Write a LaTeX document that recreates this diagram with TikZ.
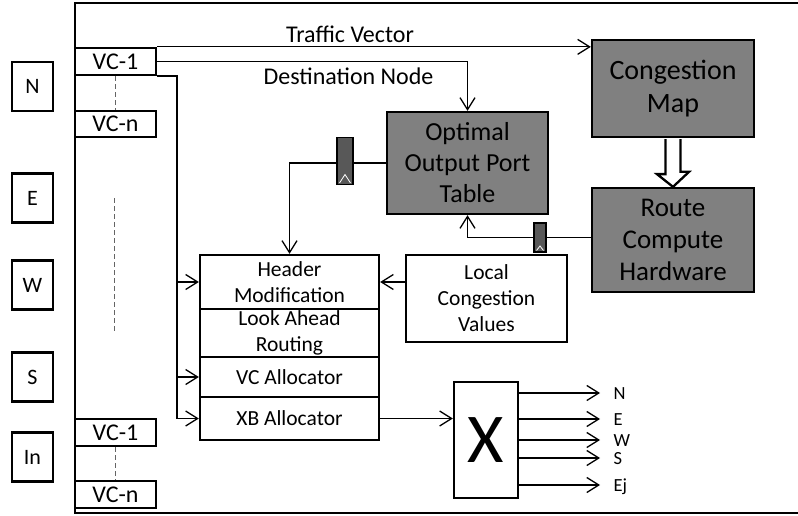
\documentclass[tikz,border=0pt]{standalone}
\usepackage{fontspec}
\setmainfont{Carlito}
\usetikzlibrary{arrows.meta}

\definecolor{boxgrey}{RGB}{128,128,128}
\definecolor{reggrey}{RGB}{88,88,88}
\definecolor{dashgrey}{RGB}{100,100,100}

\begin{document}
\begin{tikzpicture}[x=1pt,y=-1pt,line width=1.3pt,>={Straight Barb[length=12pt,width=15pt]},
    port/.style={draw,line width=2.3pt,minimum width=41pt,minimum height=49pt,inner sep=0pt,font=\fontsize{22}{24}\selectfont},
    vc/.style={draw,line width=2.3pt,minimum width=81pt,minimum height=27pt,inner sep=0pt,font=\fontsize{24}{24}\selectfont},
    grey box/.style={draw,line width=2.3pt,fill=boxgrey,minimum width=162pt,inner sep=0pt,align=center},
    stage/.style={draw,line width=2.3pt,minimum width=179pt,inner sep=0pt,align=center,font=\fontsize{21.5}{26}\selectfont},
    reg/.style={draw,line width=1.5pt,fill=reggrey,inner sep=0pt,
        path picture={\draw[white,line width=0.8pt]
            ([xshift=2.5pt,yshift=1.5pt]path picture bounding box.south west)
            -- ([yshift=#1]path picture bounding box.south)
            -- ([xshift=-2.5pt,yshift=1.5pt]path picture bounding box.south east);}},
    lbl/.style={inner sep=0pt,font=\fontsize{24}{24}\selectfont},
    outlbl/.style={anchor=west,inner sep=0pt,text height=12pt,text depth=0pt,font=\fontsize{18.5}{18.5}\selectfont}]

    \path[fill=white,use as bounding box] (0,0) rectangle (798,516);

    % router outline, open to the right
    \draw[line width=2.3pt] (802,3) -- (75,3) -- (75,513) -- (802,513);

    % input ports
    \foreach \dir/\yy in {N/86.5,E/198,W/285,S/377,In/457}
        \node[port] (port-\dir) at (32.5,\yy) {\dir};

    % virtual channel buffers
    \node[vc] (vc1) at (115.5,61.5) {VC-1};
    \node[vc,minimum height=26pt] (vcn) at (115.5,124) {VC-n};
    \node[vc] (vc1b) at (115.5,432.5) {VC-1};
    \node[vc] (vcnb) at (115.5,494.5) {VC-n};
    \draw[dashgrey,line width=1pt,dash pattern=on 5pt off 3pt] (vc1.south) -- (vcn.north);
    \draw[dashgrey,line width=1pt,dash pattern=on 5pt off 3pt] (vc1b.south) -- (vcnb.north);
    \draw[dashgrey,line width=1pt,dash pattern=on 5pt off 3pt] (114,198) -- (114,333);

    % tables and congestion logic
    \node[grey box,minimum width=161pt,minimum height=102pt,font=\fontsize{26}{31}\selectfont] (opt) at (467.5,163) {Optimal\\Output Port\\Table};
    \node[grey box,minimum height=97pt,font=\fontsize{28}{33}\selectfont] (cmap) at (673,88.5) {Congestion\\Map};
    \node[grey box,minimum height=104pt,font=\fontsize{27}{32}\selectfont] (route) at (673,240) {Route\\Compute\\Hardware};

    % pipeline stages
    \node[stage,minimum height=54pt] (hdr) at (289.5,282) {Header\\Modification};
    \node[stage,minimum height=48pt] (la) at (289.5,333) {Look Ahead\\Routing};
    \node[stage,minimum height=40pt] (vca) at (289.5,377) {VC Allocator};
    \node[stage,minimum height=43pt] (xba) at (289.5,418.5) {XB Allocator};
    \node[stage,minimum width=161pt,minimum height=87pt] (lcv) at (486.5,298.5) {Local\\Congestion\\Values};
    \node[draw,line width=2.3pt,minimum width=64pt,minimum height=116pt,inner sep=0pt,font=\fontsize{70}{70}\selectfont] (xbar) at (486,440) {X};

    % pipeline registers
    \node[reg=10pt,minimum width=16pt,minimum height=47pt] (r1) at (345,161) {};
    \node[reg=6pt,minimum width=12pt,minimum height=29pt] (r2) at (540,237.5) {};

    % wires
    \draw[->] (vc1.north east) -- (vc1.north east -| cmap.west);
    \node[lbl,anchor=base] (tv) at (350,43) {Traffic Vector};
    \draw[->] (vc1.east) -| (opt.north);
    \node[lbl,anchor=base] (dn) at (348.5,85) {Destination Node};

    \coordinate (bus) at ([xshift=-22pt]xba.west);
    \draw[->] (vc1.south east) -| (bus) -- (xba.west);
    \path[->]
        (bus |- hdr.west) edge (hdr.west)
        (bus |- vca.west) edge (vca.west)
        (hdr.east -| lcv.west) edge (hdr.east)
        (xba.east) edge (xba.east -| xbar.west);

    \draw (opt.west -| r1.east) -- (opt.west);
    \draw[->] (opt.west -| r1.west) -| (hdr.north);
    \draw (r2.east) -- (r2.east -| route.west);
    \draw[->] (r2.west) -| (opt.south);

    % wide arrow from the map to the route logic
    \draw[line width=2.3pt,fill=white] ([xshift=-7.5pt,yshift=-1pt]cmap.south) -- ++(0,35) -- ++(-8.5,0)
        -- (route.north) -- ++(16,-15) -- ++(-8.5,0) -- ([xshift=7.5pt,yshift=-1pt]cmap.south);

    % crossbar outputs
    \foreach \dir/\yy in {N/393,E/419,W/440,S/458,Ej/485}{
        \node[outlbl] (o-\dir) at (613,\yy) {\dir};
        \draw[->] (xbar.east |- o-\dir.west) -- ([xshift=-13pt]o-\dir.west);
    }
\end{tikzpicture}
\end{document}
